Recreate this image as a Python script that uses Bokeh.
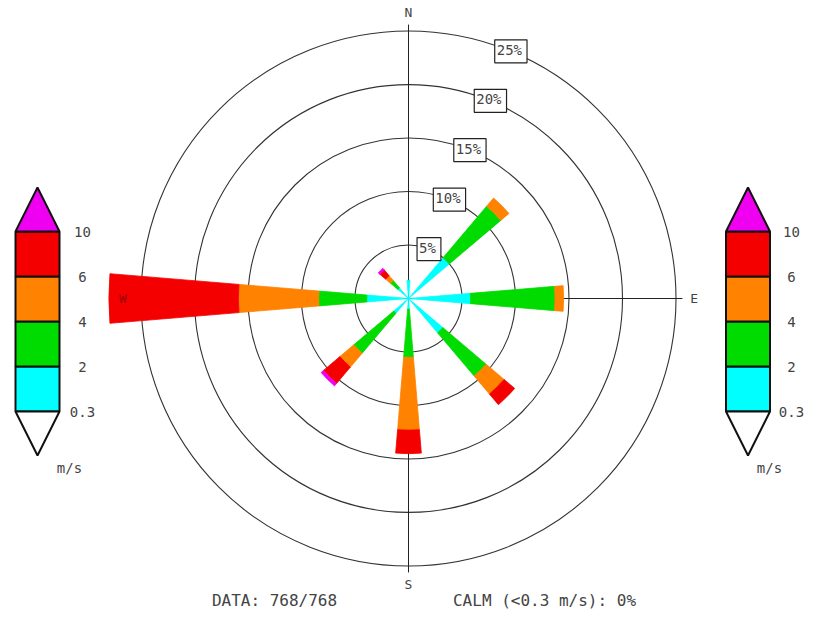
import math
from bokeh.plotting import figure
from bokeh.core.properties import value
from bokeh.embed import file_html
from bokeh.resources import INLINE

# ---------------- data ----------------
directions = ["N", "NE", "E", "SE", "S", "SW", "W", "NW"]
dir_deg = [0, 45, 90, 135, 180, 225, 270, 315]
speed_edges = ["0.3", "2", "4", "6", "10"]
speed_unit = "m/s"
bin_colors = ["#00ffff", "#00dc00", "#ff8200", "#f50000", "#f000f0"]
# frequency (%) per speed class, per direction
freq_03_2 = [1.7, 5.0, 5.8, 4.2, 1.0, 1.8, 3.9, 1.3]
freq_2_4 = [0.0, 6.3, 7.9, 5.3, 4.5, 4.9, 4.5, 0.9]
freq_4_6 = [0.0, 1.0, 0.8, 2.2, 6.8, 1.7, 7.5, 0.6]
freq_6_10 = [0.0, 0.0, 0.0, 1.3, 2.2, 2.0, 12.1, 0.7]
freq_gt10 = [0.0, 0.0, 0.0, 0.0, 0.0, 0.3, 0.0, 0.2]
rings = [5, 10, 15, 20, 25]
ring_labels = ["5%", "10%", "15%", "20%", "25%"]
n_valid = 768
n_total = 768
calm_pct = 0

# ---------------- geometry (screen layout) ----------------
W, H = 816, 632
S = 10.7           # px per percent
CX, CY = 408, 298  # centre in canvas px


def dx(ix):
    return (ix - CX) / S


def dy(iy):
    return (CY - iy) / S


p = figure(width=W, height=H, output_backend="svg", toolbar_location=None,
           x_range=(-CX / S, (W - CX) / S), y_range=(-(H - CY) / S, CY / S),
           min_border=0, outline_line_color=None)
p.axis.visible = False
p.grid.visible = False
p.background_fill_color = "white"
p.border_fill_color = "white"

FONT = value("DejaVu Sans Mono")
TXT = "#444444"

# rings and cross-hair
p.circle(x=[0] * len(rings), y=[0] * len(rings), radius=rings,
         fill_color=None, line_color="#333333", line_width=1.1)
R_AX = 25.6
p.segment(x0=[0, -R_AX], y0=[-R_AX, 0], x1=[0, R_AX], y1=[R_AX, 0],
          line_color="#222222", line_width=1)

# petals
HW = 4.75
series = [freq_03_2, freq_2_4, freq_4_6, freq_6_10, freq_gt10]
cum = [0.0] * len(directions)
for vals, col in zip(series, bin_colors):
    inn, out, sa, ea = [], [], [], []
    for i, v in enumerate(vals):
        if v > 0:
            a = 90 - dir_deg[i]
            inn.append(cum[i])
            out.append(cum[i] + v)
            sa.append(a - HW)
            ea.append(a + HW)
        cum[i] += v
    if inn:
        p.annular_wedge(x=0, y=0, inner_radius=inn, outer_radius=out,
                        start_angle=sa, end_angle=ea, start_angle_units="deg",
                        end_angle_units="deg", fill_color=col, line_color=col,
                        line_width=0.8)

# compass labels
lab_r = 26.7
card = ["N", "E", "S", "W"]
card_deg = [0, 90, 180, 270]
card_col = [TXT, TXT, TXT, "#a00000"]
p.text(x=[lab_r * math.sin(math.radians(d)) for d in card_deg],
       y=[lab_r * math.cos(math.radians(d)) for d in card_deg],
       text=card, text_color=card_col, text_font=FONT, text_font_size="13px",
       text_align="center", text_baseline="middle")

# ring labels (boxed) at NNE
ang = math.radians(22.5)
p.text(x=[r * math.sin(ang) for r in rings], y=[r * math.cos(ang) for r in rings],
       text=ring_labels, text_color=TXT, text_font=FONT, text_font_size="14px",
       text_align="center", text_baseline="middle",
       background_fill_color="white", border_line_color="#222222",
       border_line_width=1.2, padding=(2, 5, 2, 5))

# colour bars (left and right)
edge_y = [411 - 45 * k for k in range(len(speed_edges))]
for xc, xl, xu in [(37, 82, 69), (747.5, 791, 769)]:
    p.quad(left=[dx(xc - 22)] * 4, right=[dx(xc + 22)] * 4,
           bottom=[dy(edge_y[k]) for k in range(4)],
           top=[dy(edge_y[k + 1]) for k in range(4)],
           fill_color=bin_colors[:4], line_color="#111111", line_width=2)
    p.patches(xs=[[dx(xc - 22), dx(xc + 22), dx(xc)],
                  [dx(xc - 22), dx(xc + 22), dx(xc)]],
              ys=[[dy(edge_y[-1]), dy(edge_y[-1]), dy(edge_y[-1] - 44)],
                  [dy(edge_y[0]), dy(edge_y[0]), dy(edge_y[0] + 44)]],
              fill_color=[bin_colors[4], "white"], line_color="#111111",
              line_width=2)
    p.text(x=[dx(xl)] * len(speed_edges), y=[dy(e) for e in edge_y],
           text=speed_edges, text_color=TXT, text_font=FONT,
           text_font_size="14px", text_align="center", text_baseline="middle")
    p.text(x=[dx(xu)], y=[dy(467)], text=[speed_unit], text_color=TXT,
           text_font=FONT, text_font_size="14px", text_align="center",
           text_baseline="middle")

# footer
p.text(x=[dx(274), dx(544)], y=[dy(600), dy(600)],
       text=[f"DATA: {n_valid}/{n_total}",
             f"CALM (<{speed_edges[0]} {speed_unit}): {calm_pct}%"],
       text_color=TXT, text_font=FONT, text_font_size="16px",
       text_align="center", text_baseline="middle")

open("out.html", "w").write(file_html(p, INLINE))
